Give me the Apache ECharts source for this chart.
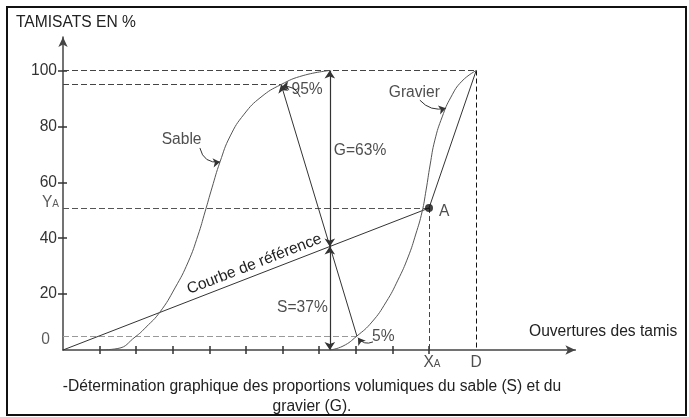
<!DOCTYPE html>
<html>
<head>
<meta charset="utf-8">
<script src="https://cdn.jsdelivr.net/npm/echarts@6/dist/echarts.min.js"></script>
<style>
  html, body { margin: 0; padding: 0; background: #fff; }
  #chart { width: 689px; height: 417px; }
</style>
</head>
<body>
<div id="chart"></div>
<script>
// Sieve openings (x, arbitrary units) and cumulative passing in % (y)
const sableX   = [1.01, 1.5, 1.97, 2.27, 2.65, 3.06, 3.42, 3.69, 3.88, 4.07, 4.29, 4.57, 4.95, 5.41, 5.96, 6.56, 7.29];
const sableY   = [0, 0.54, 4.65, 8.2, 13.6, 22.2, 31.5, 41.1, 49.4, 58.0, 67.3, 76.6, 84.4, 90.5, 95, 98.2, 100];
const gravierX = [7.29, 7.65, 8.03, 8.44, 8.83, 9.15, 9.43, 9.64, 9.81, 9.92, 10.03, 10.16, 10.36, 10.6, 10.9, 11.29];
const gravierY = [0, 1.4, 5, 10.0, 17.2, 25.0, 33.3, 41.5, 49.4, 57.2, 66.2, 75.1, 83.4, 90.5, 96.2, 100];

// Reference curve: origin -> A -> D (100 %)
const pointA = [10, 50.8];
const pointD = [11.29, 100];
// Points of the two curves at 95 % (sable) and 5 % (gravier)
const sable95 = [5.96, 95];
const gravier5 = [8.03, 5];
// Split of the mix read on the reference curve
const crossX = 7.29;
const sPercent = 37;
const gPercent = 63;

const yTicks = [20, 40, 60, 80, 100];
const xTicks = [1, 2, 3, 4, 5, 6, 7, 8, 9, 10];

const FONT = 'Liberation Sans, Arial, sans-serif';
const FS = 15.6;
const TEXT = '#222';
const INK = '#333';

const zip = (xs, ys) => xs.map((x, i) => [x, ys[i]]);

const chart = echarts.init(document.getElementById('chart'), null, { renderer: 'canvas' });

const dashed = (color, width, dash) => ({ color, width, type: dash || [6, 3], curveness: 0, opacity: 1 });

const option = {
  animation: false,
  backgroundColor: '#fff',
  textStyle: { fontFamily: FONT },
  graphic: [{
    type: 'rect',
    shape: { x: 7, y: 7, width: 679, height: 408 },
    style: { fill: 'none', stroke: '#111', lineWidth: 2 },
    silent: true
  }],
  title: [
    { text: 'TAMISATS EN %', left: 16, top: 15, padding: 0,
      textStyle: { fontFamily: FONT, fontSize: FS, fontWeight: 'normal', color: TEXT } },
    { text: 'Ouvertures des tamis', left: 529, top: 324, padding: 0,
      textStyle: { fontFamily: FONT, fontSize: FS, fontWeight: 'normal', color: TEXT } },
    { text: '-Détermination graphique des proportions volumiques du sable (S) et du\ngravier (G).',
      left: 312, top: 377, padding: 0, textAlign: 'center',
      textStyle: { fontFamily: FONT, fontSize: FS, fontWeight: 'normal', color: TEXT, lineHeight: 20, align: 'center' } }
  ],
  grid: { left: 63, top: 37, width: 512.4, height: 313, outerBoundsMode: 'none', containLabel: false },
  xAxis: [
    { type: 'value', min: 0, max: 14, position: 'bottom',
      axisLine: { show: true, lineStyle: { color: '#444', width: 1.5 }, symbol: ['none', 'arrow'], symbolSize: [7, 10] },
      axisTick: { show: true, customValues: xTicks, length: 4, inside: false, lineStyle: { color: '#333', width: 1.5 } },
      axisLabel: { show: false }, splitLine: { show: false } },
    { type: 'value', min: 0, max: 14, position: 'bottom',
      axisLine: { show: false },
      axisTick: { show: true, customValues: xTicks, length: 4, inside: true, lineStyle: { color: '#333', width: 1.5 } },
      axisLabel: { show: false }, splitLine: { show: false } }
  ],
  yAxis: [
    { type: 'value', min: 0, max: 112, position: 'left',
      axisLine: { show: true, lineStyle: { color: '#444', width: 1.5 }, symbol: ['none', 'arrow'], symbolSize: [7, 10] },
      axisTick: { show: true, customValues: yTicks, length: 5, inside: false, lineStyle: { color: '#333', width: 1.5 } },
      axisLabel: { show: true, customValues: yTicks, margin: 6, fontFamily: FONT, fontSize: FS, color: '#333',
                   verticalAlign: 'middle', padding: [0, 0, 9, 0] },
      splitLine: { show: false } },
    { type: 'value', min: 0, max: 112, position: 'left',
      axisLine: { show: false },
      axisTick: { show: true, customValues: yTicks, length: 4, inside: true, lineStyle: { color: '#333', width: 1.5 } },
      axisLabel: { show: false }, splitLine: { show: false } }
  ],
  series: [
    // Dashed construction lines
    {
      type: 'lines', coordinateSystem: 'cartesian2d', silent: true, z: 1,
      data: [
        { coords: [[0, 100], pointD], lineStyle: dashed('#444', 1) },
        { coords: [[0, 95], sable95], lineStyle: dashed('#444', 1) },
        { coords: [[0, 5], gravier5], lineStyle: dashed('#999', 1) },
        { coords: [[0, pointA[1]], pointA], lineStyle: dashed('#555', 1) },
        { coords: [pointA, [pointA[0], 0]], lineStyle: dashed('#444', 1, [5, 3]) },
        { coords: [pointD, [pointD[0], 0]], lineStyle: dashed('#111', 1, [5, 3]) }
      ]
    },
    // Grading curves
    {
      name: 'Sable', type: 'line', data: zip(sableX, sableY), smooth: 0.5,
      showSymbol: false, symbol: 'none', lineStyle: { color: '#555', width: 1 }, z: 3
    },
    {
      name: 'Gravier', type: 'line', data: zip(gravierX, gravierY), smooth: 0.5,
      showSymbol: false, symbol: 'none', lineStyle: { color: '#555', width: 1 }, z: 3
    },
    // Reference curve (broken line through A)
    {
      type: 'lines', coordinateSystem: 'cartesian2d', silent: true, z: 3,
      lineStyle: { color: INK, width: 1, curveness: 0, opacity: 1 },
      data: [
        { coords: [[0, 0], pointA],
          label: { show: true, formatter: 'Courbe de référence', position: 'insideMiddleTop', distance: 3,
                   offset: [12, 0], fontFamily: FONT, fontSize: FS, color: TEXT, opacity: 1 } },
        { coords: [pointA, pointD] }
      ]
    },
    // Line joining the 95 % and 5 % points
    {
      type: 'lines', coordinateSystem: 'cartesian2d', silent: true, z: 3,
      lineStyle: { color: INK, width: 1, curveness: 0, opacity: 1 },
      symbol: ['none', 'arrow'], symbolSize: 8,
      data: [{ coords: [gravier5, sable95] }]
    },
    // S and G double arrows
    {
      type: 'lines', coordinateSystem: 'cartesian2d', silent: true, z: 3,
      lineStyle: { color: INK, width: 1.2, curveness: 0, opacity: 1 },
      symbol: ['arrow', 'arrow'], symbolSize: 8,
      data: [
        { coords: [[crossX, sPercent], [crossX, sPercent + gPercent]] },
        { coords: [[crossX, 0], [crossX, sPercent]] }
      ]
    },
    // Curved leaders from the labels
    {
      type: 'lines', coordinateSystem: 'cartesian2d', silent: true, z: 4,
      lineStyle: { color: INK, width: 1, opacity: 1 },
      symbol: ['none', 'arrow'], symbolSize: 7,
      data: [
        { coords: [[3.74, 72.3], [4.29, 67.3]], lineStyle: { curveness: -0.45 } },
        { coords: [[6.48, 90.5], [5.98, 94.2]], lineStyle: { curveness: -0.4 } },
        { coords: [[9.75, 89.4], [10.46, 86.5]], lineStyle: { curveness: -0.3 } },
        { coords: [[8.47, 2.9], [8.06, 4.4]], lineStyle: { curveness: 0.4 } }
      ]
    },
    // Point A
    {
      type: 'scatter', data: [pointA], symbol: 'circle', symbolSize: 8, clip: false, z: 5,
      itemStyle: { color: '#111' },
      label: { show: true, formatter: 'A', position: 'right', distance: 6, offset: [0, 4],
               fontFamily: FONT, fontSize: FS, color: TEXT }
    },
    // Text annotations
    {
      type: 'scatter', symbolSize: 0, clip: false, silent: true, z: 6,
      label: { show: true, position: 'inside', fontFamily: FONT, fontSize: FS, color: TEXT },
      data: [
        { value: [3.24, 75.1], label: { formatter: 'Sable' } },
        { value: [6.67, 93.3], label: { formatter: '95%' } },
        { value: [crossX, 71.3], label: { formatter: 'G=' + gPercent + '%', position: 'right', distance: 4 } },
        { value: [crossX, 15.3], label: { formatter: 'S=' + sPercent + '%', position: 'left', distance: 2 } },
        { value: [9.6, 92.2], label: { formatter: 'Gravier' } },
        { value: [8.75, 4.76], label: { formatter: '5%' } },
        { value: [0, 3.6], label: { formatter: '0', position: 'left', distance: 13, color: '#333' } },
        { value: [0, pointA[1]], label: { formatter: 'Y{s|A}', position: 'left', distance: 4, offset: [0, -5], color: '#333',
            rich: { s: { fontSize: 10, fontFamily: FONT, color: '#333', padding: [3, 0, 0, 0] } } } },
        { value: [pointA[0], 0], label: { formatter: 'X{s|A}', position: 'bottom', distance: 5, offset: [3, 0],
            rich: { s: { fontSize: 10, fontFamily: FONT, color: TEXT, padding: [3, 0, 0, 0] } } } },
        { value: [pointD[0], 0], label: { formatter: 'D', position: 'bottom', distance: 5 } }
      ]
    }
  ]
};

chart.setOption(option);
</script>
</body>
</html>
